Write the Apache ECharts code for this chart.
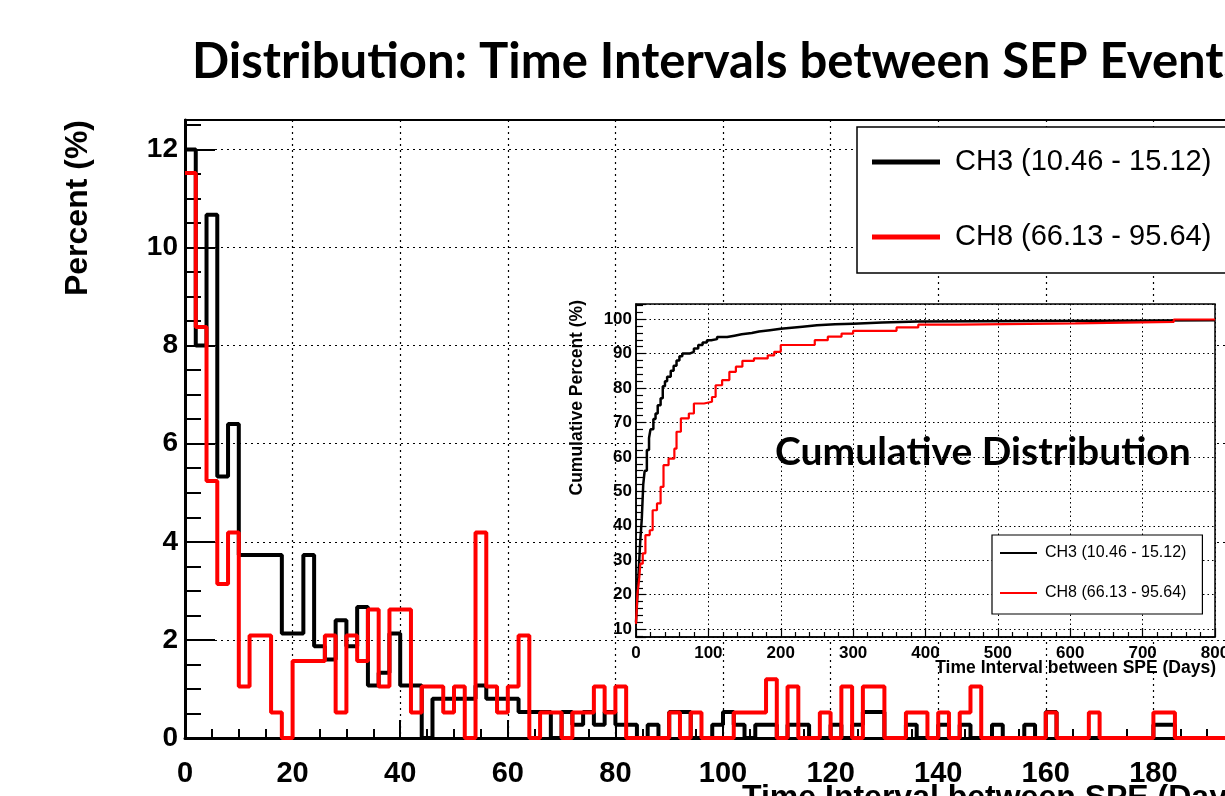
<!DOCTYPE html>
<html>
<head>
<meta charset="utf-8">
<title>SEP time intervals</title>
<script src="https://cdn.jsdelivr.net/npm/echarts@6/dist/echarts.min.js"></script>
<style>
  html, body { margin: 0; padding: 0; background: #fff; }
  #chart { width: 1225px; height: 796px; }
</style>
</head>
<body>
<div id="chart"></div>
<script>
// histogram, 2-day bins starting at 0, values in percent
var binWidth = 2;
var seriesNames = ['CH3 (10.46 - 15.12)', 'CH8 (66.13 - 95.64)'];

var ch3Percent = [
  12.00, 8.00, 10.67, 5.33, 6.40, 3.73, 3.73, 3.73, 3.73, 2.13,
  2.13, 3.73, 1.87, 1.60, 2.40, 1.87, 2.67, 1.07, 1.33, 2.13,
  1.07, 1.07, 0, 0.80, 0.80, 0.80, 0.80, 1.07, 0.80, 0.80,
  0.80, 0.53, 0.53, 0.53, 0, 0.53, 0.27, 0.53, 0.27, 0.53,
  0.27, 0.27, 0, 0.27, 0, 0.53, 0.53, 0, 0, 0.27,
  0.53, 0.27, 0, 0.27, 0.27, 0, 0.27, 0.27, 0, 0,
  0.27, 0, 0.27, 0.53, 0.53, 0, 0, 0.27, 0, 0,
  0.27, 0, 0.27, 0, 0, 0.27, 0, 0, 0.27, 0,
  0.53, 0, 0, 0, 0, 0, 0, 0, 0, 0,
  0.27, 0.27, 0, 0, 0, 0, 0, 0, 0, 0
];

var ch8Percent = [
  11.52, 8.38, 5.24, 3.14, 4.19, 1.05, 2.09, 2.09, 0.52, 0,
  1.57, 1.57, 1.57, 2.09, 0.52, 2.09, 1.57, 2.62, 1.05, 2.62,
  2.62, 0.52, 1.05, 1.05, 0.52, 1.05, 0, 4.19, 1.05, 0.52,
  1.05, 2.09, 0, 0.52, 0.52, 0, 0.52, 0.52, 1.05, 0.52,
  1.05, 0, 0, 0, 0, 0.52, 0, 0.52, 0, 0,
  0, 0.52, 0.52, 0.52, 1.20, 0, 1.05, 0, 0, 0.52,
  0, 1.05, 0, 1.05, 1.05, 0, 0, 0.52, 0.52, 0,
  0.52, 0, 0.52, 1.05, 0, 0, 0, 0, 0, 0,
  0.52, 0, 0, 0, 0.52, 0, 0, 0, 0, 0,
  0.52, 0.52, 0, 0, 0, 0, 0, 0, 0, 0
];

// cumulative curves (inset), days vs percent
var ch3CumDays = [0, 2, 4, 6, 8, 10, 12, 15, 18, 20, 24, 27, 30, 34, 37, 40, 43, 48, 52, 56,
  60, 64, 74, 80, 86, 92, 98, 104, 112, 126, 136, 146, 160, 170, 185, 200, 215, 230, 250, 275,
  300, 340, 390, 800];
var ch3CumPercent = [12, 20, 28, 36, 42, 52, 56, 62, 65.5, 68, 71, 72.6, 75, 77, 80.5, 82, 83.3, 85, 86.5, 88,
  89.2, 90, 90.5, 91.5, 92.5, 93.2, 93.9, 94.2, 94.8, 95.2, 95.6, 96, 96.4, 96.8, 97.2, 97.5, 97.8, 98.2, 98.5, 98.7,
  99.0, 99.3, 99.7, 99.7];

var ch8CumDays = [0, 2, 4.6, 6, 9.3, 13, 19, 23, 29, 34, 38, 45, 53, 56, 62, 73, 80, 94, 105, 110,
  119, 129, 138, 147, 163, 182, 191, 200, 237, 247, 265, 284, 300, 360, 390, 445, 607, 743, 800];
var ch8CumPercent = [11.5, 20.3, 25, 29, 32, 37.3, 38.7, 44.5, 46.5, 51.3, 57.6, 59.5, 62.4, 67.3, 71.2, 72.6, 75.5, 76, 77.4, 80.8,
  82.3, 84.7, 86.2, 87.9, 88.6, 89.5, 90.5, 92.5, 92.5, 93.9, 94.9, 95.8, 96.6, 97.6, 98.4, 98.75, 99.2, 99.9, 99.9];

var helv = "'Liberation Sans', Arial, Helvetica, sans-serif";
var calib = "Lato, 'Open Sans', sans-serif";

function histSteps(values) {
  var pts = [];
  for (var i = 0; i < values.length; i++) {
    pts.push([i * binWidth, values[i]]);
  }
  pts.push([values.length * binWidth, values[values.length - 1]]);
  return pts;
}

function pairs(xs, ys) {
  var pts = [];
  for (var i = 0; i < xs.length; i++) {
    pts.push([xs[i], ys[i]]);
  }
  return pts;
}

var dotted = {color: '#000', type: [2, 4], width: 1.2};
var fineDotted = {color: '#000', type: [1.5, 3], width: 1};

var chart = echarts.init(document.getElementById('chart'));
var option = {
  animation: false,
  grid: [
    // main frame runs past the right edge of the canvas (x = 200 is off-screen)
    {left: 185, top: 120, width: 1076, height: 618, outerBoundsMode: 'none', containLabel: false,
      show: true, borderColor: '#000', borderWidth: 2},
    {left: 636, top: 304, width: 579, height: 333, outerBoundsMode: 'none', containLabel: false}
  ],
  xAxis: [
    {
      gridIndex: 0, type: 'value', min: 0, max: 200, interval: 20,
      axisLine: {show: true, onZero: false, lineStyle: {color: '#000', width: 3}},
      axisTick: {show: true, inside: true, length: 18, lineStyle: {color: '#000', width: 2}},
      minorTick: {show: true, splitNumber: 4, length: 9, lineStyle: {color: '#000', width: 2}},
      axisLabel: {margin: 21, color: '#000', fontFamily: helv, fontWeight: 'bold', fontSize: 29},
      splitLine: {show: true, lineStyle: dotted}
    },
    {
      gridIndex: 1, type: 'value', min: 0, max: 800, interval: 100, z: 5,
      axisLine: {show: true, onZero: false, lineStyle: {color: '#000', width: 1.5}},
      axisTick: {show: true, inside: true, length: 9, lineStyle: {color: '#000', width: 1.2}},
      minorTick: {show: true, splitNumber: 5, length: 5, lineStyle: {color: '#000', width: 1.2}},
      axisLabel: {margin: 8, color: '#000', fontFamily: helv, fontWeight: 'bold', fontSize: 17},
      splitLine: {show: true, lineStyle: fineDotted}
    }
  ],
  yAxis: [
    {
      gridIndex: 0, type: 'value', min: 0, max: 12.6, interval: 2,
      axisLine: {show: true, lineStyle: {color: '#000', width: 3}},
      axisTick: {show: true, inside: true, length: 30, lineStyle: {color: '#000', width: 2}},
      minorTick: {show: true, splitNumber: 4, length: 16, lineStyle: {color: '#000', width: 2}},
      axisLabel: {margin: 7, color: '#000', fontFamily: helv, fontWeight: 'bold', fontSize: 28, showMaxLabel: false},
      splitLine: {show: true, lineStyle: dotted}
    },
    {
      gridIndex: 1, type: 'value', min: 7.7, max: 104.4, splitNumber: 10, z: 5,
      axisLine: {show: true, lineStyle: {color: '#000', width: 1.5}},
      axisTick: {show: true, inside: true, length: 10, lineStyle: {color: '#000', width: 1.2}},
      minorTick: {show: true, splitNumber: 5, length: 7, lineStyle: {color: '#000', width: 1.2}},
      axisLabel: {margin: 4, color: '#000', fontFamily: helv, fontWeight: 'bold', fontSize: 17,
        showMinLabel: false, showMaxLabel: false},
      splitLine: {show: true, lineStyle: fineDotted}
    }
  ],
  legend: [
    {
      data: seriesNames, left: 857, top: 127, orient: 'vertical', icon: 'rect',
      itemWidth: 68, itemHeight: 5, itemGap: 45, padding: [20, 40, 21, 15],
      backgroundColor: '#fff', borderColor: '#000', borderWidth: 1.5, selectedMode: false,
      textStyle: {fontFamily: helv, fontSize: 29, color: '#000', lineHeight: 30, padding: [0, 0, 0, 10]}
    },
    {
      data: seriesNames, left: 992, top: 535, orient: 'vertical', icon: 'rect', z: 7,
      itemWidth: 37, itemHeight: 2, itemGap: 24, padding: [10, 16, 13, 8],
      backgroundColor: '#fff', borderColor: '#000', borderWidth: 1.2, selectedMode: false,
      textStyle: {fontFamily: helv, fontSize: 16, color: '#000', lineHeight: 16, padding: [0, 0, 0, 3]}
    }
  ],
  graphic: [
    {type: 'text', left: 192, top: 38, z: 10,
      style: {text: 'Distribution: Time Intervals between SEP Events', fill: '#000',
        font: 'bold 49px ' + calib}},
    {type: 'text', x: 78, y: 120, rotation: Math.PI / 2, z: 10,
      style: {text: 'Percent (%)', fill: '#000', font: 'bold 32px ' + helv, align: 'right', verticalAlign: 'middle'}},
    {type: 'text', x: 742, y: 798, z: 10,
      style: {text: 'Time Interval between SPE (Days)', fill: '#000', font: 'bold 32px ' + helv, align: 'left', verticalAlign: 'middle'}},
    {type: 'rect', z: 3, shape: {x: 636, y: 304, width: 579, height: 333},
      style: {fill: '#fff', stroke: '#000', lineWidth: 1.5}},
    {type: 'text', x: 577, y: 300, rotation: Math.PI / 2, z: 10,
      style: {text: 'Cumulative Percent (%)', fill: '#000', font: 'bold 17.5px ' + helv, align: 'right', verticalAlign: 'middle'}},
    {type: 'text', x: 1216, y: 668, z: 10,
      style: {text: 'Time Interval between SPE (Days)', fill: '#000', font: 'bold 17.5px ' + helv, align: 'right', verticalAlign: 'middle'}},
    {type: 'text', x: 775, y: 452, z: 10,
      style: {text: 'Cumulative Distribution', fill: '#000', font: 'bold 39px ' + calib, align: 'left', verticalAlign: 'middle'}}
  ],
  series: [
    {
      name: seriesNames[0], type: 'line', xAxisIndex: 0, yAxisIndex: 0, step: 'end', z: 2,
      showSymbol: false, color: '#000', lineStyle: {color: '#000', width: 4},
      data: histSteps(ch3Percent)
    },
    {
      name: seriesNames[1], type: 'line', xAxisIndex: 0, yAxisIndex: 0, step: 'end', z: 3,
      showSymbol: false, color: '#ff0000', lineStyle: {color: '#ff0000', width: 4},
      data: histSteps(ch8Percent)
    },
    {
      name: seriesNames[0], type: 'line', xAxisIndex: 1, yAxisIndex: 1, step: 'end', z: 6,
      showSymbol: false, color: '#000', lineStyle: {color: '#000', width: 2.5},
      data: pairs(ch3CumDays, ch3CumPercent)
    },
    {
      name: seriesNames[1], type: 'line', xAxisIndex: 1, yAxisIndex: 1, step: 'end', z: 6,
      showSymbol: false, color: '#ff0000', lineStyle: {color: '#ff0000', width: 2.2},
      data: pairs(ch8CumDays, ch8CumPercent)
    }
  ]
};
chart.setOption(option);
window.onresize = chart.resize;
</script>
</body>
</html>
